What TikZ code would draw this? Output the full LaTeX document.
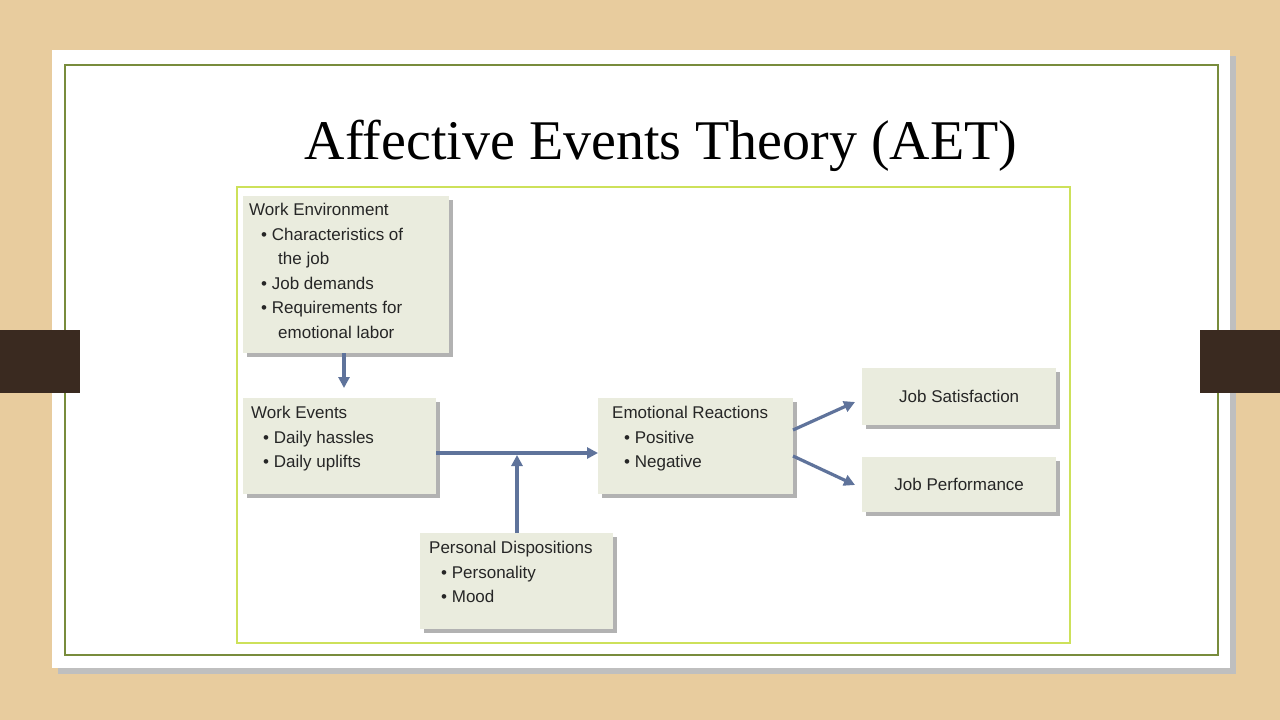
\documentclass[tikz,border=0pt]{standalone}
\usepackage{fontspec}
\setmainfont{Liberation Serif}
\newfontfamily\boxfont{Liberation Sans}
\usetikzlibrary{arrows.meta}
\definecolor{wood}{RGB}{232,204,158}
\definecolor{tab}{RGB}{58,42,32}
\definecolor{olive}{RGB}{120,140,60}
\definecolor{lime}{RGB}{205,225,90}
\definecolor{boxfill}{RGB}{234,236,222}
\definecolor{arr}{RGB}{95,115,155}
\tikzset{
 flow/.style={draw=arr,line width=3.2pt,-{Triangle[length=11pt,width=11pt]}},
 txt/.style={anchor=north west,font=\boxfont\fontsize{17}{24.5}\selectfont,align=left,inner sep=0pt,text=black!85},
 bx/.style={fill=boxfill,anchor=north west,inner sep=0pt}
}
\newcommand{\bul}{\hspace*{12pt}\textbullet\ }
\begin{document}
\begin{tikzpicture}[x=1pt,y=-1pt]
\useasboundingbox (0,0) rectangle (1280,720);
\fill[wood] (0,0) rectangle (1280,720);
\fill[black!25] (58,56) rectangle (1236,674);
\fill[white] (52,50) rectangle (1230,668);
\draw[olive,line width=1.5pt] (65,65) rectangle (1218,655);
\fill[tab] (0,330) rectangle (80,393);
\fill[tab] (1200,330) rectangle (1280,393);
\node (title) at (661,146) {\fontsize{56}{62}\selectfont Affective Events Theory (AET)};
\draw[lime,line width=1.2pt] (237,187) rectangle (1070,643);
% boxes
\fill[black!30] (247,200) rectangle (453,357);
\node[bx,minimum width=206pt,minimum height=157pt] (env) at (243,196) {};
\node[txt] (envt) at (249,203) {Work Environment\\
\bul Characteristics of\\
\hspace*{29pt}the job\\
\bul Job demands\\
\bul Requirements for\\
\hspace*{29pt}emotional labor};
\fill[black!30] (247,402) rectangle (440,498);
\node[bx,minimum width=193pt,minimum height=96pt] (ev) at (243,398) {};
\node[txt] at (251,406) {Work Events\\
\bul Daily hassles\\
\bul Daily uplifts};
\fill[black!30] (602,402) rectangle (797,498);
\node[bx,minimum width=195pt,minimum height=96pt] (emo) at (598,398) {};
\node[txt] at (612,406) {Emotional Reactions\\
\bul Positive\\
\bul Negative};
\fill[black!30] (424,537) rectangle (617,633);
\node[bx,minimum width=193pt,minimum height=96pt] (pd) at (420,533) {};
\node[txt] at (429,541) {Personal Dispositions\\
\bul Personality\\
\bul Mood};
\fill[black!30] (866,372) rectangle (1060,429);
\node[bx,minimum width=194pt,minimum height=57pt] (js) at (862,368) {};
\node[font=\boxfont\fontsize{17}{22}\selectfont,text=black!85] at (js.center) {Job Satisfaction};
\fill[black!30] (866,461) rectangle (1060,516);
\node[bx,minimum width=194pt,minimum height=55pt] (jp) at (862,457) {};
\node[font=\boxfont\fontsize{17}{22}\selectfont,text=black!85] at (jp.center) {Job Performance};
% arrows
\draw[flow] (344,353) -- (344,388);
\coordinate (evr) at (436,453);
\coordinate (emol) at (598,453);
\draw[flow] (evr) -- (emol);
\draw[flow] (517,533) -- (517,455);
\draw[flow] (793,430) -- (855,402);
\draw[flow] (793,456) -- (855,485);
\end{tikzpicture}
\end{document}
